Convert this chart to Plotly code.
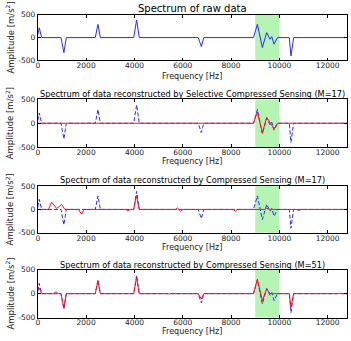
import plotly.graph_objects as go

# ---------------- data ----------------
raw_freq = [0, 60, 160, 960, 1080, 1180, 2380, 2490, 2590, 3970, 4090, 4200,
            6640, 6770, 6870, 8930, 9090, 9295, 9475, 9615, 9685, 9780, 9920,
            10410, 10480, 10590, 12800]
raw_amp = [60, 215, 0, 0, -330, 0, 0, 290, 0, 0, 385, 0,
           0, -195, 0, 0, 290, -217, 108, -36, 22, -145, 0,
           0, -400, 0, 0]

scs17_freq = [0, 8930, 9090, 9295, 9475, 9780, 9920, 12800]
scs17_amp = [0, 0, 240, -205, 123, -115, 0, 0]

cs17_freq = [0, 440, 575, 780, 985, 1120, 1680, 1810, 1920, 3650, 3730, 3830,
             3970, 4080, 4200, 5700, 5780, 5850, 5920, 6000, 8100, 8180, 8260,
             9400, 9480, 9620, 9700, 10700, 10800, 10900, 12800]
cs17_amp = [0, 0, 155, 20, 104, 0, 0, -100, 0, 0, -35, 0,
            0, 300, 0, 0, 30, 0, -40, 0, 0, -35, 0,
            0, 30, -20, 0, 0, -20, 0, 0]

cs51_freq = [0, 60, 160, 650, 750, 850, 960, 1080, 1180, 2380, 2490, 2590,
             3970, 4090, 4200, 4900, 4960, 5050, 5400, 5450, 5500, 6640, 6770,
             6870, 8930, 9090, 9295, 9475, 9615, 10410, 10480, 10590, 11550,
             11600, 11650, 12400, 12500, 12600, 12800]
cs51_amp = [60, 120, 0, 0, 40, 0, 0, -300, 0, 0, 270, 0,
            0, 340, 0, 0, 10, 0, 0, -10, 0, 0, -110,
            0, 0, 300, -150, 100, 0, 0, -290, 0, 0,
            -15, 0, 0, 10, 0, 0]

titles = ["Spectrum of raw data",
          "Spectrum of data reconstructed by Selective Compressed Sensing (M=17)",
          "Spectrum of data reconstructed by Compressed Sensing (M=17)",
          "Spectrum of data reconstructed by Compressed Sensing (M=51)"]
recon = [None, (scs17_freq, scs17_amp), (cs17_freq, cs17_amp), (cs51_freq, cs51_amp)]
x_ticks = [0, 2000, 4000, 6000, 8000, 10000, 12000]
x_tick_labels = ["0", "2000", "4000", "6000", "8000", "10000", "12000"]
y_ticks = [-500, 0, 500]
y_tick_labels = ["-500", "0", "500"]
band = [9000, 10000]

# ---------------- layout ----------------
W, H = 351, 341
FONT = "DejaVu Sans"
panels_px = [(11, 58), (98, 147), (187, 235), (273, 322)]
title_px = [5, 92, 181, 268]
title_size = [10, 8.2, 8.2, 8.2]
xlab_px = [74.5, 162, 250, 336]
x0, x1 = 36 / W, 347 / W

fig = go.Figure()
annotations = []
shapes = []
for i, (top, bot) in enumerate(panels_px):
    n = "" if i == 0 else str(i + 1)
    xa, ya = "x" + n, "y" + n
    dom = [1 - bot / H, 1 - top / H]
    blue_style = dict(color="#2a2aff", width=1)
    if i > 0:
        blue_style["dash"] = "4px,2px"
    fig.add_trace(go.Scatter(x=raw_freq, y=raw_amp, mode="lines", line=blue_style,
                             xaxis=xa, yaxis=ya, showlegend=False, hoverinfo="skip"))
    if recon[i] is not None:
        fig.add_trace(go.Scatter(x=recon[i][0], y=recon[i][1], mode="lines",
                                 line=dict(color="#ff1010", width=1),
                                 xaxis=xa, yaxis=ya, showlegend=False, hoverinfo="skip"))
    axcommon = dict(showgrid=False, zeroline=False, showline=True, linecolor="black",
                    linewidth=0.8, mirror="ticks", ticks="inside", ticklen=3,
                    tickcolor="black", tickwidth=0.8,
                    tickfont=dict(family=FONT, size=7.5, color="#222"))
    fig.layout["xaxis" + n] = dict(axcommon, domain=[x0, x1], range=[0, 12800],
                                   tickvals=x_ticks, ticktext=x_tick_labels, anchor=ya,
                                   ticklabelstandoff=-2)
    fig.layout["yaxis" + n] = dict(axcommon, domain=dom, range=[-500, 500],
                                   tickvals=y_ticks, ticktext=y_tick_labels, anchor=xa)
    shapes.append(dict(type="rect", xref=xa, yref=ya + " domain", x0=band[0], x1=band[1],
                       y0=0, y1=1, fillcolor="rgb(180,245,180)", line=dict(width=0),
                       layer="below"))
    annotations.append(dict(text=titles[i], x=(x0 + x1) / 2, y=1 - title_px[i] / H,
                            xref="paper", yref="paper", showarrow=False,
                            xanchor="center", yanchor="middle",
                            font=dict(family=FONT, size=title_size[i], color="black")))
    annotations.append(dict(text="Frequency [Hz]", x=(x0 + x1) / 2, y=1 - xlab_px[i] / H,
                            xref="paper", yref="paper", showarrow=False,
                            xanchor="center", yanchor="middle",
                            font=dict(family=FONT, size=8, color="#222")))
    annotations.append(dict(text="Amplitude [m/s<sup>2</sup>]", x=8 / W,
                            y=1 - (top + bot) / 2 / H,
                            xref="paper", yref="paper", showarrow=False, textangle=-90,
                            xanchor="center", yanchor="middle",
                            font=dict(family=FONT, size=8.5, color="#222")))

fig.update_layout(width=W, height=H, margin=dict(l=0, r=0, t=0, b=0),
                  paper_bgcolor="white", plot_bgcolor="white",
                  annotations=annotations, shapes=shapes)
fig.write_html("out.html")
